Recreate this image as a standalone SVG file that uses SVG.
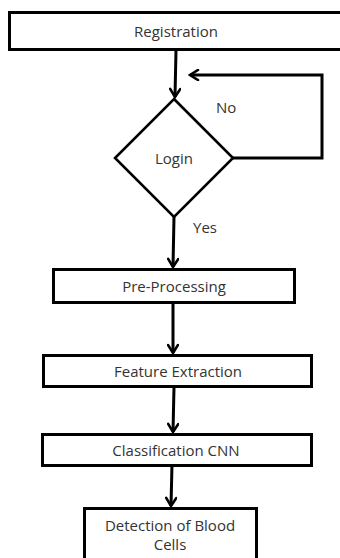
<svg xmlns="http://www.w3.org/2000/svg" width="340" height="558" viewBox="0 0 340 558">
<defs>
<marker id="arr" viewBox="0 0 12 12" refX="10" refY="6" markerWidth="12" markerHeight="12" markerUnits="userSpaceOnUse" orient="auto">
<path d="M2,1 L10,6 L2,11" fill="none" stroke="#000" stroke-width="2.6" stroke-linecap="round" stroke-linejoin="miter"/>
</marker>
<style>
.box{fill:#fff;stroke:#000;stroke-width:3}
.dia{fill:#fff;stroke:#000;stroke-width:2.6}
.t{font-family:"Open Sans","Liberation Sans",sans-serif;font-size:15px;fill:#333;text-anchor:middle}
.l{font-family:"Open Sans","Liberation Sans",sans-serif;font-size:15px;fill:#333}
.c{fill:none;stroke:#000;stroke-width:3}
</style>
</defs>
<rect width="340" height="558" fill="#fff"/>
<g id="connectors">
<line class="c" x1="176" y1="50" x2="175" y2="97" marker-end="url(#arr)"/>
<polyline class="c" points="233,158 322,158 322,75 190,75" marker-end="url(#arr)"/>
<line class="c" x1="174" y1="217" x2="173" y2="267" marker-end="url(#arr)"/>
<line class="c" x1="173" y1="303" x2="173" y2="353" marker-end="url(#arr)"/>
<line class="c" x1="174" y1="387" x2="173" y2="432" marker-end="url(#arr)"/>
<line class="c" x1="172" y1="464" x2="171" y2="506" marker-end="url(#arr)"/>
</g>
<g id="registration">
<rect class="box" x="9.5" y="12.5" width="340" height="37"/>
<text class="t" x="176" y="36.5">Registration</text>
</g>
<g id="login">
<polygon class="dia" points="174,99 233,158 174,217 115,158"/>
<text class="t" x="174" y="163.5">Login</text>
</g>
<g id="labels">
<text class="l" x="216" y="112.5">No</text>
<text class="l" x="193" y="232.5">Yes</text>
</g>
<g id="preprocessing">
<rect class="box" x="53.5" y="269.5" width="241" height="33"/>
<text class="t" x="174" y="291.5">Pre-Processing</text>
</g>
<g id="feature">
<rect class="box" x="43.5" y="355.5" width="268" height="31"/>
<text class="t" x="178" y="376.5">Feature Extraction</text>
</g>
<g id="classification">
<rect class="box" x="42.5" y="434.5" width="269" height="31"/>
<text class="t" x="176" y="455.5">Classification CNN</text>
</g>
<g id="detection">
<rect class="box" x="84.5" y="508.5" width="172" height="60"/>
<text class="t" x="170" y="530.5">Detection of Blood</text>
<text class="t" x="170" y="550">Cells</text>
</g>
</svg>
